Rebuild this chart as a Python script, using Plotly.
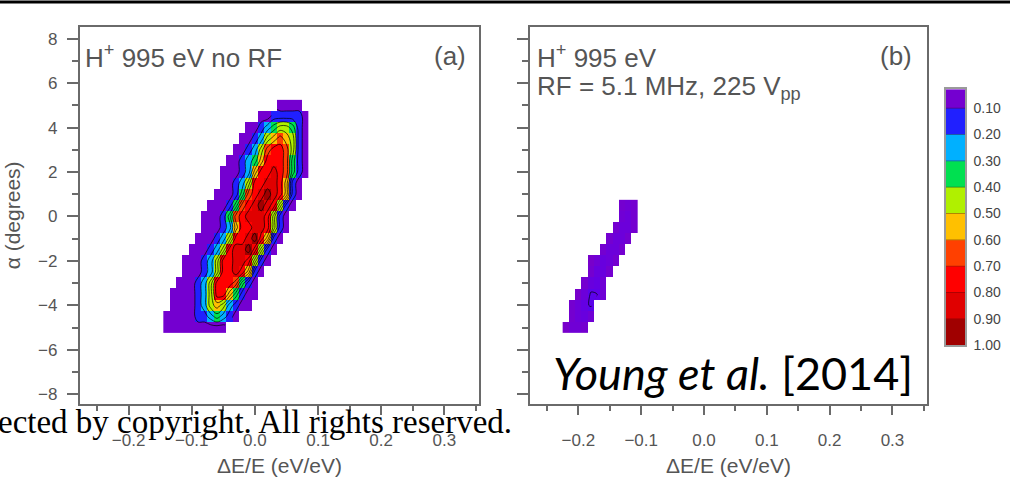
import plotly.graph_objects as go

# ---------------- data ----------------
# Panel (a): band index per cell (0 = 0.0-0.1 ... 9 = 0.9-1.0), '.' = no counts
a_x = [round(-0.14 + 0.01 * k, 2) for k in range(23)]          # column centres (dE/E)
a_y = [5.0, 4.5, 4.0, 3.5, 3.0, 2.5, 2.0, 1.5, 1.0, 0.5, 0.0,
       -0.5, -1.0, -1.5, -2.0, -2.5, -3.0, -3.5, -4.0, -4.5, -5.0]  # row centres (deg)
a_rows = [
    "..................0000.",
    "...............00111110",
    ".............0012344310",
    "............00124565410",
    "...........001246776410",
    "..........0012357776310",
    ".........00012577876310",
    ".........0012477887510.",
    "........00013678987510.",
    ".......00013678987410..",
    "......00013678887410...",
    "......00012577887410...",
    ".....00012477897510....",
    "....00012478897410.....",
    "...00012477887410......",
    "...0001247787510.......",
    "..0001247776310........",
    ".00001247753100........",
    ".0000124542100.........",
    "000001123210...........",
    "0000000000.............",
]

# Panel (b): normalised counts per cell
b_x = [-0.22, -0.21, -0.20, -0.19, -0.18, -0.17, -0.16, -0.15, -0.14, -0.13, -0.12, -0.11]
b_y = [0.5, 0.0, -0.5, -1.0, -1.5, -2.0, -2.5, -3.0, -3.5, -4.0, -4.5, -5.0]
N = None
b_z = [
    [N, N, N, N, N, N, N, N, N, 0.05, 0.06, 0.05],
    [N, N, N, N, N, N, N, N, N, 0.06, 0.07, 0.05],
    [N, N, N, N, N, N, N, N, 0.05, 0.07, 0.07, 0.05],
    [N, N, N, N, N, N, N, 0.05, 0.07, 0.07, 0.05, N],
    [N, N, N, N, N, N, 0.05, 0.07, 0.07, 0.05, N, N],
    [N, N, N, N, 0.04, 0.06, 0.08, 0.07, 0.05, N, N, N],
    [N, N, N, N, 0.05, 0.08, 0.08, 0.05, N, N, N, N],
    [N, N, N, 0.05, 0.08, 0.09, 0.06, N, N, N, N, N],
    [N, N, 0.04, 0.07, 0.105, 0.10, 0.06, N, N, N, N, N],
    [N, 0.05, 0.07, 0.09, 0.105, N, N, N, N, N, N, N],
    [N, 0.05, 0.07, 0.08, 0.06, N, N, N, N, N, N, N],
    [0.04, 0.06, 0.06, 0.05, N, N, N, N, N, N, N, N],
]

# colour bar levels (top of bar starts just below 0.10)
cbar_edges = [0.028, 0.1, 0.2, 0.3, 0.4, 0.5, 0.6, 0.7, 0.8, 0.9, 1.0]
cbar_mids = [0.05, 0.15, 0.25, 0.35, 0.45, 0.55, 0.65, 0.75, 0.85, 0.95]
cbar_ticks = [0.1, 0.2, 0.3, 0.4, 0.5, 0.6, 0.7, 0.8, 0.9, 1.0]

colorscale = [
    [0.00, "#8800b8"], [0.10, "#6000e8"], [0.15, "#2020ff"], [0.20, "#0070ff"],
    [0.25, "#00b0ff"], [0.30, "#00e0d0"], [0.35, "#00e050"], [0.40, "#40f000"],
    [0.45, "#b0f000"], [0.50, "#f0f000"], [0.55, "#ffc000"], [0.60, "#ff8000"],
    [0.65, "#ff4000"], [0.70, "#ff1000"], [0.75, "#ff0000"], [0.85, "#e00000"],
    [0.95, "#a00000"], [1.00, "#700000"],
]

# convert band strings to values (band centre)
a_z = [[None if c == "." else (int(c) + 0.5) / 10 for c in row] for row in a_rows]

W, H = 1019, 484
def px(x):
    return x / W
def py(y):
    return 1 - y / H

TXT = "#555555"
FONT = "Liberation Sans"

fig = go.Figure()
for xa, ya, xs, ys, zs in [("x", "y", a_x, a_y, a_z), ("x2", "y2", b_x, b_y, b_z)]:
    fig.add_trace(go.Heatmap(x=xs, y=ys, z=zs, colorscale=colorscale, zmin=0, zmax=1,
                             showscale=False, xaxis=xa, yaxis=ya, hoverongaps=False))
    fig.add_trace(go.Contour(x=xs, y=ys, z=zs, showscale=False, xaxis=xa, yaxis=ya,
                             contours=dict(coloring="lines", start=0.1, end=0.9, size=0.1),
                             line=dict(color="rgba(0,0,0,0.3)", width=0.7),
                             colorscale=[[0, "black"], [1, "black"]],
                             hoverinfo="skip"))

# colour bar drawn as its own small axis (0.10 at top, 1.00 at bottom)
fig.add_trace(go.Heatmap(x=[0, 1], y=cbar_edges, z=[[m] for m in cbar_mids],
                         colorscale=colorscale, zmin=0, zmax=1, showscale=False,
                         xaxis="x3", yaxis="y3", hoverinfo="skip"))
for lv in cbar_ticks[:-1]:
    fig.add_shape(type="line", xref="x3", yref="y3", x0=0, x1=1, y0=lv, y1=lv,
                  line=dict(color="rgba(70,0,0,0.35)", width=1))

xr = [-0.277, 0.355]
yr = [-8.45, 8.55]
frame = dict(showline=True, linecolor="#6a6a6a", linewidth=2.2, mirror=True,
             ticks="outside", tickcolor="#6a6a6a", showgrid=False, zeroline=False)

xcommon = dict(range=xr, dtick=0.1, tick0=0, ticklen=9, tickwidth=1.5, tickformat=".1f",
               minor=dict(dtick=0.05, tick0=0, ticklen=5, tickcolor="#6a6a6a", ticks="outside"),
               tickfont=dict(family=FONT, size=17, color=TXT), ticklabelstandoff=10,
               title=dict(text="ΔE/E (eV/eV)", font=dict(family=FONT, size=21, color=TXT), standoff=10),
               **frame)
ycommon = dict(range=yr, dtick=2, tick0=0, ticklen=11, tickwidth=1.5,
               minor=dict(dtick=1, tick0=0, ticklen=6, tickcolor="#6a6a6a", ticks="outside"),
               tickfont=dict(family=FONT, size=17, color=TXT), ticklabelstandoff=6, **frame)

fig.update_layout(
    width=W, height=H, margin=dict(l=0, r=0, t=0, b=0),
    paper_bgcolor="white", plot_bgcolor="white", showlegend=False,
    xaxis=dict(domain=[px(80), px(479)], anchor="y", **xcommon),
    yaxis=dict(domain=[py(411), py(27)], anchor="x",
               title=dict(text="α (degrees)", font=dict(family=FONT, size=21, color=TXT), standoff=12),
               **ycommon),
    xaxis2=dict(domain=[px(530), px(927)], anchor="y2", **xcommon),
    yaxis2=dict(domain=[py(411), py(27)], anchor="x2", showticklabels=False, **ycommon),
    xaxis3=dict(domain=[px(946), px(965)], anchor="y3", range=[0, 1], showticklabels=False,
                showgrid=False, zeroline=False, showline=True, mirror=True,
                linecolor="#9a9a9a", linewidth=1.5, ticks=""),
    yaxis3=dict(domain=[py(351), py(90.7)], anchor="x3", range=[1.0, 0.028], side="right",
                tickvals=cbar_ticks, tickformat=".2f", ticks="", showgrid=False, zeroline=False,
                showline=True, mirror=True, linecolor="#9a9a9a", linewidth=1.5,
                tickfont=dict(family=FONT, size=14, color="#444444"), ticklabelstandoff=4),
)

# top rule
fig.add_shape(type="line", xref="paper", yref="paper", x0=0, x1=px(1010), y0=py(2), y1=py(2),
              line=dict(color="black", width=3))

ann = dict(xref="paper", yref="paper", showarrow=False)
fig.add_annotation(text="H<sup>+</sup> 995 eV no RF", x=px(83), y=py(57), xanchor="left", yanchor="middle",
                   font=dict(family=FONT, size=26, color=TXT), **ann)
fig.add_annotation(text="(a)", x=px(468), y=py(57), xanchor="right", yanchor="middle",
                   font=dict(family=FONT, size=26, color=TXT), **ann)
fig.add_annotation(text="H<sup>+</sup> 995 eV", x=px(535), y=py(57), xanchor="left", yanchor="middle",
                   font=dict(family=FONT, size=26, color=TXT), **ann)
fig.add_annotation(text="RF = 5.1 MHz, 225 V<sub>pp</sub>", x=px(535), y=py(89), xanchor="left",
                   yanchor="middle", font=dict(family=FONT, size=26, color=TXT), **ann)
fig.add_annotation(text="(b)", x=px(914), y=py(57), xanchor="right", yanchor="middle",
                   font=dict(family=FONT, size=26, color=TXT), **ann)
fig.add_annotation(text="<i>Young et al.</i> [2014]", x=px(915), y=py(379), xanchor="right",
                   yanchor="middle", font=dict(family="Lato", size=45, color="black"), **ann)
fig.add_annotation(text="ected by copyright. All rights reserved.", x=px(514), y=py(429),
                   xanchor="right", yanchor="middle",
                   font=dict(family="Liberation Serif", size=33, color="black"), **ann)

# remove the browser's default page margin so the figure sits at (0, 0)
fig.write_html("out.html", config={"displayModeBar": False},
               post_script="document.body.style.margin='0';")
